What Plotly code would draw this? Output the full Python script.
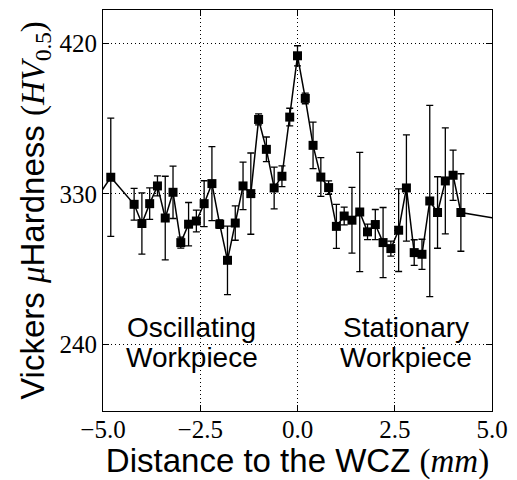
import plotly.graph_objects as go

# Micro-hardness profile across the weld centre zone (WCZ)
distance_mm = [-5.2, -4.8, -4.2, -4.0, -3.8, -3.6, -3.4, -3.2, -3.0, -2.8,
               -2.6, -2.4, -2.2, -2.0, -1.8, -1.6, -1.4, -1.2, -1.0, -0.8,
               -0.6, -0.4, -0.2, 0.0, 0.2, 0.4, 0.6, 0.8, 1.0, 1.2,
               1.4, 1.6, 1.8, 2.0, 2.2, 2.4, 2.6, 2.8, 3.0, 3.2,
               3.4, 3.6, 3.8, 4.0, 4.2, 5.4]
hardness_hv = [326.0, 339.9, 323.7, 312.2, 324.1, 334.7, 315.5, 330.9, 300.8, 311.8,
               313.7, 324.1, 336.1, 311.8, 290.2, 312.5, 334.7, 330.1, 374.5, 356.6,
               333.5, 340.5, 375.9, 412.6, 387.1, 359.0, 340.0, 333.7, 310.5, 316.7,
               314.2, 319.1, 307.2, 311.6, 300.8, 297.2, 308.2, 333.5, 294.8, 293.8,
               325.7, 318.8, 337.7, 341.1, 318.8, 314.0]
hardness_err = [0.0, 35.4, 9.5, 18.3, 9.4, 6.0, 25.0, 15.7, 3.3, 13.0,
                6.5, 13.7, 22.1, 2.5, 20.5, 10.3, 14.2, 24.3, 3.3, 7.4,
                12.5, 6.2, 5.3, 6.0, 3.2, 13.9, 11.6, 4.0, 13.2, 5.3,
                19.7, 35.7, 4.6, 9.0, 21.0, 4.5, 24.7, 31.8, 7.7, 9.0,
                57.2, 21.4, 31.7, 15.0, 23.2, 0.0]

x_ticks = [-5.0, -2.5, 0.0, 2.5, 5.0]
x_tick_text = ["\u22125.0", "\u22122.5", "0.0", "2.5", "5.0"]
y_ticks = [240, 330, 420]
y_tick_text = ["240", "330", "420"]

region_labels = [
    ("Oscillating", -2.72, 250.0),
    ("Workpiece", -2.72, 232.0),
    ("Stationary", 2.78, 250.0),
    ("Workpiece", 2.78, 232.0),
]

SANS = "Liberation Sans, Arial, Helvetica, sans-serif"
SERIF = "Liberation Serif, Times New Roman, serif"


def math(s):
    return f'<span style="font-family:{SERIF}">{s}</span>'


fig = go.Figure(
    go.Scatter(
        x=distance_mm,
        y=hardness_hv,
        mode="lines+markers",
        line=dict(color="black", width=1.5),
        marker=dict(symbol="square", size=9, color="black"),
        error_y=dict(type="data", array=hardness_err, visible=True,
                     color="black", thickness=1.3, width=3.5),
        showlegend=False,
    )
)

for text, xv, yv in region_labels:
    fig.add_annotation(x=xv, y=yv, xref="x", yref="y", text=text,
                       showarrow=False, xanchor="center", yanchor="middle",
                       font=dict(family=SANS, size=28, color="black"))

axis_common = dict(
    showline=True, linecolor="black", linewidth=1, mirror="ticks",
    ticks="inside", ticklen=6, tickcolor="black", tickwidth=1,
    showgrid=True, gridcolor="black", gridwidth=1, griddash="1px,3px",
    zeroline=False,
    tickfont=dict(family=SERIF, size=25, color="black"),
)

fig.update_xaxes(
    range=[-5, 5], tickmode="array", tickvals=x_ticks, ticktext=x_tick_text,
    ticklabelstandoff=-4,
    title=dict(text="Distance to the WCZ " + math("(<i>mm</i>)"),
               font=dict(family=SANS, size=33, color="black"), standoff=3),
    **axis_common,
)
fig.update_yaxes(
    range=[200, 440], tickmode="array", tickvals=y_ticks, ticktext=y_tick_text,
    title=dict(text="Vickers " + math("<i>\u03bc</i>") + "Hardness "
               + math("(<i>HV</i><sub>0.5</sub>)"),
               font=dict(family=SANS, size=33, color="black"), standoff=4),
    **axis_common,
)

fig.update_layout(
    width=517, height=480,
    margin=dict(l=103, r=25, t=10, b=69),
    paper_bgcolor="white", plot_bgcolor="white",
)

fig.write_html("out.html")
